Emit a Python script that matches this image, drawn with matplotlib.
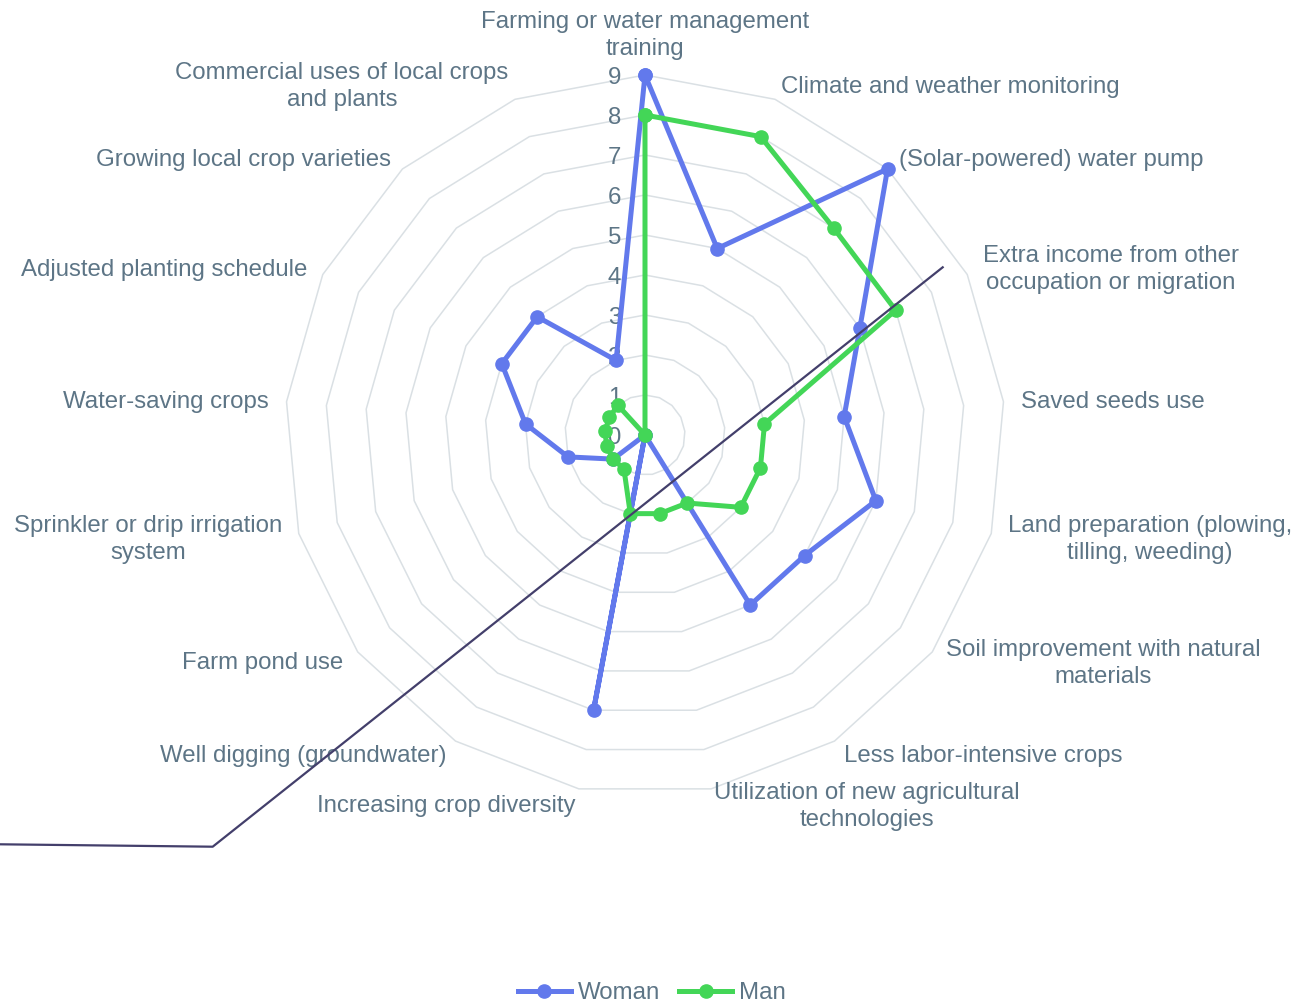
import numpy as np
import matplotlib
matplotlib.use("Agg")
import matplotlib.pyplot as plt
from matplotlib.lines import Line2D
from matplotlib.transforms import offset_copy

# ---------------- data ----------------
categories = [
    "Farming or water management\ntraining",
    "Climate and weather monitoring",
    "(Solar-powered) water pump",
    "Extra income from other\noccupation or migration",
    "Saved seeds use",
    "Land preparation (plowing,\ntilling, weeding)",
    "Soil improvement with natural\nmaterials",
    "Less labor-intensive crops",
    "Utilization of new agricultural\ntechnologies",
    "Increasing crop diversity",
    "Well digging (groundwater)",
    "Farm pond use",
    "Sprinkler or drip irrigation\nsystem",
    "Water-saving crops",
    "Adjusted planting schedule",
    "Growing local crop varieties",
    "Commercial uses of local crops\nand plants",
]
woman = [9, 5, 9, 6, 5, 6, 5, 5, 0, 7, 0, 1, 2, 3, 4, 4, 2]
man = [8, 8, 7, 7, 3, 3, 3, 2, 2, 2, 1, 1, 1, 1, 1, 1, 0]
radial_ticks = [0, 1, 2, 3, 4, 5, 6, 7, 8, 9]
series_names = ["Woman", "Man"]

# ---------------- style ----------------
W, H = 1314, 1002
DPI = 100
TXT = "#5D7586"
GRID = "#DAE0E4"
BLUE = "#6279EC"
GREEN = "#43D657"
FONT = "Liberation Sans"
FS = 17.3

plt.rcParams["font.family"] = [FONT, "DejaVu Sans"]

fig = plt.figure(figsize=(W / DPI, H / DPI), dpi=DPI)
cx, cy, R = 645, 1002 - 435, 360
ax = fig.add_axes([(cx - R) / W, (cy - R) / H, 2 * R / W, 2 * R / H], projection="polar")
ax.set_theta_zero_location("N")
ax.set_theta_direction(-1)
rmax = max(radial_ticks)
ax.set_ylim(0, rmax)
ax.grid(False)
ax.spines["polar"].set_visible(False)
ax.set_xticks([])
ax.set_yticks([])
ax.patch.set_alpha(0)

n = len(categories)
theta = np.arange(n) * 2 * np.pi / n
theta_c = np.append(theta, theta[0])

# polygon grid rings
for k in radial_ticks[1:]:
    ax.plot(theta_c, [k] * (n + 1), color=GRID, lw=1.1, zorder=1, clip_on=False)

# radial tick labels along top axis
tr = offset_copy(ax.transData, fig=fig, x=-24, y=-3, units="dots")
for k in radial_ticks:
    ax.text(0, k, str(k), transform=tr, ha="right", va="center",
            fontsize=FS, color=TXT, zorder=2)

# category labels
for t, lab in zip(theta, categories):
    s = np.sin(t)
    if abs(s) < 1e-6:
        ha = "center"
        va = "bottom" if np.cos(t) > 0 else "top"
        gap = 15
        trans = ax.transData
    else:
        ha = "left" if s > 0 else "right"
        va = "center"
        gap = 17.5
        trans = offset_copy(ax.transData, fig=fig, x=0, y=-2 - 2 * np.cos(t), units="dots")
    ax.text(t, rmax + gap / (R / rmax), lab, ha=ha, va=va, fontsize=FS, color=TXT,
            multialignment="center", linespacing=1.3, clip_on=False, transform=trans)

# series
for vals, col, name, z in [(woman, BLUE, series_names[0], 3), (man, GREEN, series_names[1], 4)]:
    v = np.append(vals, vals[0])
    ax.plot(theta_c, v, color=col, lw=3.6, marker="o", markersize=9.5,
            label=name, zorder=z, clip_on=False)

# stray dark connector line present in the reference image (decorative)
deco = Line2D([942.7 / W, 212.7 / W, 0.0], [1 - 267.3 / H, 1 - 846.7 / H, 1 - 844.3 / H],
              transform=fig.transFigure, color="#433F6B", lw=1.6, zorder=5)
fig.add_artist(deco)

leg = fig.legend(loc="center", bbox_to_anchor=(652 / W, 1 - 993 / H), ncol=2,
                 frameon=False, fontsize=FS, handlelength=2.2, handletextpad=0.3,
                 columnspacing=0.8, labelcolor=TXT)

fig.savefig("out.png", dpi=DPI)
